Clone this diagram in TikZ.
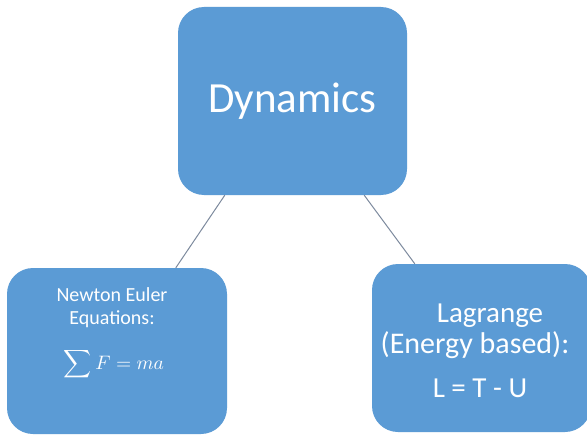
\documentclass[tikz,border=0pt]{standalone}
\usepackage{fontspec}
\setmainfont{Carlito}
\usepackage{graphicx}
\usetikzlibrary{calc}
\definecolor{boxblue}{RGB}{91,155,213}
\definecolor{linkgray}{RGB}{125,138,158}
\tikzset{
  box/.style={rectangle, rounded corners=26pt, fill=boxblue, draw=none, inner sep=0pt},
  txt/.style={text=white, inner sep=0pt, anchor=base},
  link/.style={draw=linkgray, line width=1pt}
}
\begin{document}
\begin{tikzpicture}[x=1pt,y=-1pt]
\useasboundingbox (0,0) rectangle (587,436);
\fill[white] (0,0) rectangle (587,436);
% boxes
\node[box, minimum width=229pt, minimum height=188pt] (top) at (292.5,101) {};
\node[box, minimum width=220pt, minimum height=166pt] (left) at (117,351) {};
\node[box, minimum width=219pt, minimum height=168pt] (right) at (481.5,348) {};
% connectors
\draw[link] ($(top.south west)+(47,0)$) -- ($(left.north west)+(169,0)$);
\draw[link] ($(top.south east)+(-43,0)$) -- ($(right.north west)+(43,0)$);
% texts
\node[txt, font=\fontsize{43}{50}\selectfont] (dyn) at (292.5,113) {Dynamics};
\node[txt, font=\fontsize{20}{24}\selectfont] (ne1) at (112,301) {Newton Euler};
\node[txt, font=\fontsize{20}{24}\selectfont] (ne2) at (112,324) {Equations:};
\node[txt] (ne3) at (114,369) {\scalebox{1.95}{$\displaystyle\sum F = ma$}};
\node[txt, font=\fontsize{29}{34}\selectfont] (lg1) at (490,322) {Lagrange};
\node[txt, font=\fontsize{30}{34}\selectfont] (lg2) at (475,353) {(Energy based):};
\node[txt, font=\fontsize{29}{34}\selectfont] (lg3) at (480,397) {L = T - U};
\end{tikzpicture}
\end{document}
